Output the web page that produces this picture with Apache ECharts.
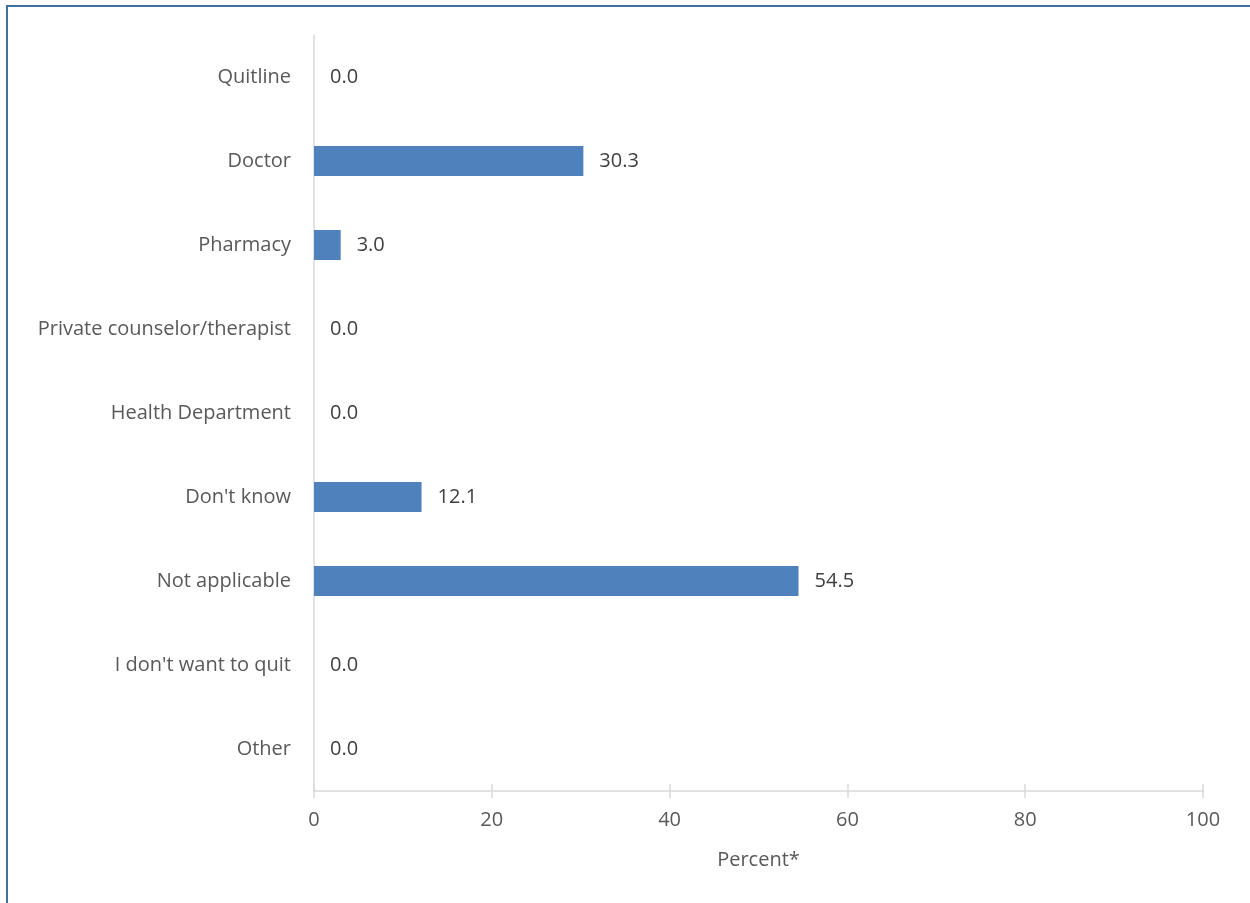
<!DOCTYPE html>
<html lang="en">
<head>
<meta charset="UTF-8">
<title>Quit help sources</title>
<script src="https://cdn.jsdelivr.net/npm/echarts@6/dist/echarts.min.js"></script>
<style>
  html, body { margin: 0; padding: 0; background: #fff; }
  #frame { position: absolute; left: 6px; top: 5px; width: 1260px; height: 920px; border-left: 2px solid #41719c; border-top: 2px solid #41719c; }
  #main { position: absolute; left: 0; top: 0; width: 1250px; height: 903px; }
</style>
</head>
<body>
<div id="frame"></div>
<div id="main"></div>
<script>
// categories top to bottom
var categories = ['Quitline', 'Doctor', 'Pharmacy', 'Private counselor/therapist', 'Health Department', "Don't know", 'Not applicable', "I don't want to quit", 'Other'];
var percents = [0.0, 30.3, 3.0, 0.0, 0.0, 12.1, 54.5, 0.0, 0.0];
var xTicks = [0, 20, 40, 60, 80, 100];

var chart = echarts.init(document.getElementById('main'));
var font = '"Open Sans", sans-serif';
var grey = '#595959';
var fs = 20;

chart.setOption({
  animation: false,
  grid: { left: 314, right: 47, top: 35, bottom: 112, containLabel: false },
  xAxis: [{
    type: 'value', min: xTicks[0], max: xTicks[xTicks.length - 1], interval: 20,
    name: 'Percent*', nameLocation: 'middle', nameGap: 59,
    nameTextStyle: { color: grey, fontSize: fs, fontFamily: font },
    axisLine: { show: true, lineStyle: { color: '#d9d9d9', width: 1.5 } },
    axisTick: { show: true, length: 7, lineStyle: { color: '#d9d9d9', width: 1.5 } },
    axisLabel: { color: grey, fontSize: fs, fontFamily: font, margin: 19 },
    splitLine: { show: false }
  }, {
    // upper half of the crossing ticks
    type: 'value', min: 0, max: 100, interval: 20, position: 'bottom',
    axisLine: { show: false },
    axisTick: { show: true, inside: true, length: 7, lineStyle: { color: '#d9d9d9', width: 1.5 } },
    axisLabel: { show: false }, splitLine: { show: false }
  }],
  yAxis: {
    type: 'category', data: categories, inverse: true,
    axisLine: { show: true, lineStyle: { color: '#d9d9d9', width: 1.5 } },
    axisTick: { show: false },
    axisLabel: { color: grey, fontSize: fs, fontFamily: font, margin: 23 }
  },
  series: [{
    type: 'bar', data: percents, barWidth: 30, xAxisIndex: 0,
    itemStyle: { color: '#4f81bd' },
    label: {
      show: true, position: 'right', distance: 16,
      color: '#404040', fontSize: fs, fontFamily: font,
      formatter: function (p) { return p.value.toFixed(1); }
    }
  }]
});
</script>
</body>
</html>
